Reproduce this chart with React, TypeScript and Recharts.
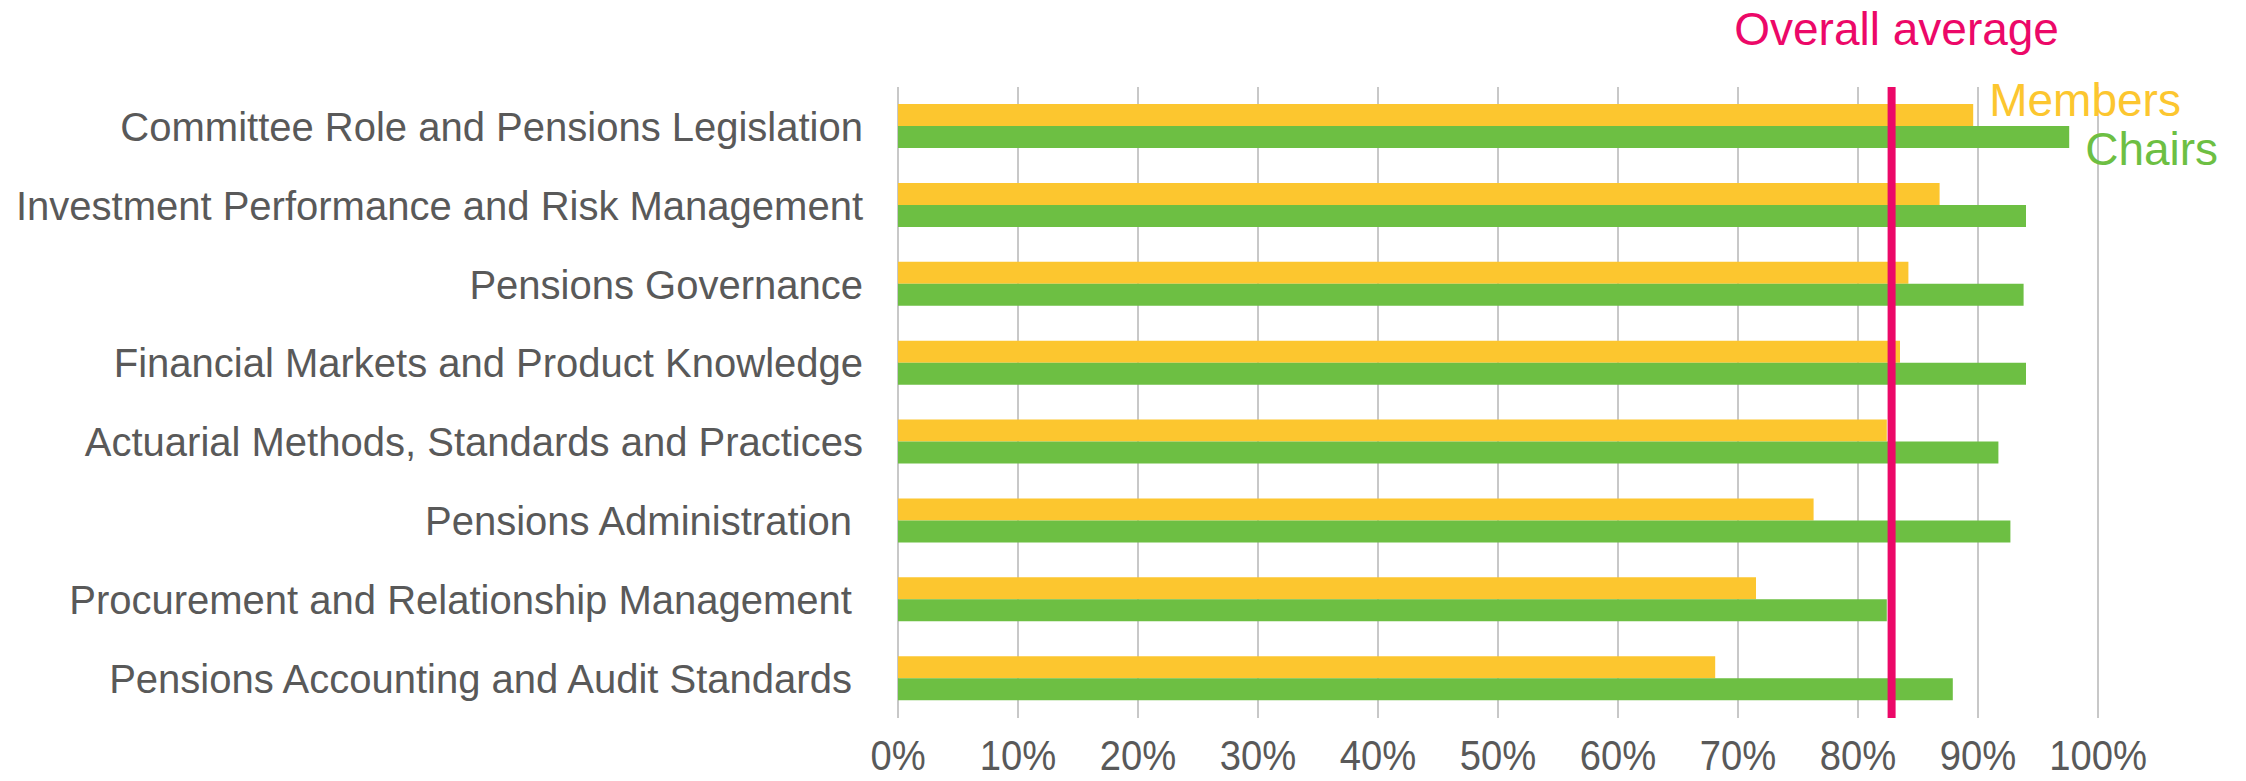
import React from 'react'
import {
  Bar,
  BarChart,
  CartesianGrid,
  LabelList,
  ReferenceLine,
  XAxis,
  YAxis,
} from 'recharts'

const categories = [
  'Committee Role and Pensions Legislation',
  'Investment Performance and Risk Management',
  'Pensions Governance',
  'Financial Markets and Product Knowledge',
  'Actuarial Methods, Standards and Practices',
  'Pensions Administration ',
  'Procurement and Relationship Management ',
  'Pensions Accounting and Audit Standards ',
]
const membersScores = [89.6, 86.8, 84.2, 83.5, 82.4, 76.3, 71.5, 68.1]
const chairsScores = [97.6, 94.0, 93.8, 94.0, 91.7, 92.7, 82.4, 87.9]
const overallAverage = 82.8
const xTicks = [0, 10, 20, 30, 40, 50, 60, 70, 80, 90, 100]

const FONT = '"Liberation Sans", Arial, sans-serif'
const GREY = '#595959'
const YELLOW = '#FCC62F'
const GREEN = '#6DBF43'
const PINK = '#EC0868'

const data = categories.map((name, i) => ({
  name,
  members: membersScores[i],
  chairs: chairsScores[i],
}))

function CategoryTick(props: any) {
  const { x, y, payload } = props
  return (
    <text
      x={x}
      y={y}
      dy="0.36em"
      textAnchor="end"
      fill={GREY}
      fontSize={40}
      fontFamily={FONT}
      style={{ whiteSpace: 'pre' }}
    >
      {payload.value}
    </text>
  )
}

// the percent labels are a touch condensed in the original
function PercentTick(props: any) {
  const { x, y, payload } = props
  return (
    <text
      transform={`translate(${x},${y + 52}) scale(0.91,1)`}
      textAnchor="middle"
      fill={GREY}
      fontSize={42}
      fontFamily={FONT}
    >
      {`${payload.value}%`}
    </text>
  )
}

function seriesLabel(text: string, color: string, dy: number) {
  return (props: any) => {
    const { x, y, width, index } = props
    if (index !== 0) return null
    return (
      <text
        x={Number(x) + Number(width) + 16}
        y={Number(y) + dy}
        fill={color}
        fontSize={46}
        fontFamily={FONT}
      >
        {text}
      </text>
    )
  }
}

function AverageLabel(props: any) {
  const { viewBox } = props
  if (!viewBox) return null
  return (
    <text
      x={viewBox.x + 5}
      y={viewBox.y - 42}
      textAnchor="middle"
      fill={PINK}
      fontSize={46}
      fontFamily={FONT}
    >
      Overall average
    </text>
  )
}

export default function App(): React.ReactElement {
  return (
    <>
      <style>{'body { margin: 0; }'}</style>
      <BarChart
        width={2246}
        height={781}
        data={data}
        layout="vertical"
        margin={{ top: 87, right: 148, bottom: 0, left: 0 }}
        barGap={0}
        barSize={22}
      >
        <CartesianGrid horizontal={false} stroke="#C8C8C8" strokeWidth={2} />
        <XAxis
          type="number"
          domain={[0, 100]}
          ticks={xTicks}
          axisLine={false}
          tickLine={false}
          tickSize={0}
          tickMargin={0}
          height={63}
          tick={<PercentTick />}
          interval={0}
        />
        <YAxis
          type="category"
          dataKey="name"
          width={898}
          axisLine={false}
          tickLine={false}
          tickSize={0}
          tickMargin={35}
          interval={0}
          tick={<CategoryTick />}
        />
        <Bar dataKey="members" fill={YELLOW} isAnimationActive={false}>
          <LabelList dataKey="members" content={seriesLabel('Members', YELLOW, 12)} />
        </Bar>
        <Bar dataKey="chairs" fill={GREEN} isAnimationActive={false}>
          <LabelList dataKey="chairs" content={seriesLabel('Chairs', GREEN, 39)} />
        </Bar>
        <ReferenceLine
          x={overallAverage}
          stroke={PINK}
          strokeWidth={8}
          label={(p: any) => <AverageLabel {...p} />}
        />
      </BarChart>
    </>
  )
}
